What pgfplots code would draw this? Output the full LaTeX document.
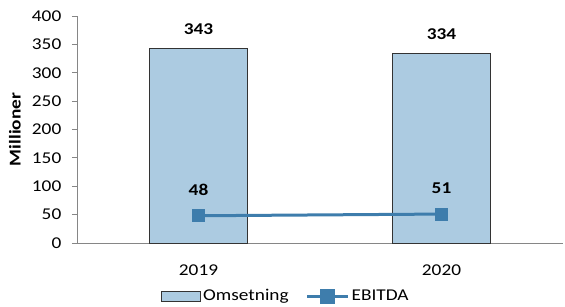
\documentclass[border=0pt]{standalone}
\usepackage{fontspec}
\setmainfont{Carlito}[FakeStretch=1.17]
\usepackage{pgfplots}
\pgfplotsset{compat=1.18}
\definecolor{barfill}{RGB}{172,203,225}
\definecolor{linecol}{RGB}{62,125,172}
\definecolor{axgray}{RGB}{134,134,134}
\begin{document}
\fontsize{16.5}{19}\selectfont
\begin{tikzpicture}
\useasboundingbox (0,0) rectangle (565pt,306pt);
\begin{axis}[
  at={(77pt,63pt)}, anchor=south west,
  scale only axis, width=486pt, height=227pt,
  xmin=-0.5, xmax=1.5, ymin=0, ymax=400,
  axis x line*=bottom, axis y line*=left,
  axis line style={axgray, line width=0.8pt},
  ytick={0,50,...,400},
  xtick={0,1}, xticklabels={2019,2020},
  x tick style={draw=none},
  extra x ticks={-0.5,0.5,1.5}, extra x tick labels={},
  extra x tick style={major tick length=5pt, tick align=outside, tick style={axgray, line width=0.8pt, draw=axgray}},
  y tick style={axgray, line width=0.8pt},
  major tick length=5pt, tick align=outside,
  /pgf/number format/assume math mode=true,
  tick label style={font=\fontsize{16.5}{19}\selectfont},
  yticklabel style={xshift=-5pt},
  xticklabel style={yshift=-11pt},
  ylabel={\bfseries Millioner},
  ylabel style={at={(axis description cs:-0.1276,0.5)}, anchor=center},
  legend style={at={(0.43,0)}, anchor=center, yshift=-53pt, draw=none, fill=none,
    legend columns=2, font=\fontsize{16.5}{19}\selectfont,
    /tikz/every even column/.append style={column sep=15pt}},
]
\addplot[ybar, bar width=98pt, fill=barfill, draw=black!80, line width=0.8pt,
  nodes near coords, every node near coord/.append style={anchor=center, yshift=19pt, font=\bfseries\fontsize{16.5}{19}\selectfont, text=black},
  legend image code/.code={\draw[fill=barfill, draw=black!80, line width=0.8pt] (0pt,-5pt) rectangle (39pt,5pt);}]
  coordinates {(0,343) (1,334)};
\addlegendentry{Omsetning}
\addplot[linecol, line width=3pt, mark=square*, mark size=6pt, mark options={fill=linecol, draw=linecol, line width=0pt},
  nodes near coords, every node near coord/.append style={anchor=center, yshift=26pt, font=\bfseries\fontsize{16.5}{19}\selectfont, text=black},
  legend image code/.code={\draw[linecol, line width=3pt] (0pt,0pt) -- (41pt,0pt); \fill[linecol] (14.5pt,-6pt) rectangle (26.5pt,6pt);}]
  coordinates {(0,48) (1,51)};
\addlegendentry{EBITDA}
\end{axis}
\end{tikzpicture}
\end{document}
